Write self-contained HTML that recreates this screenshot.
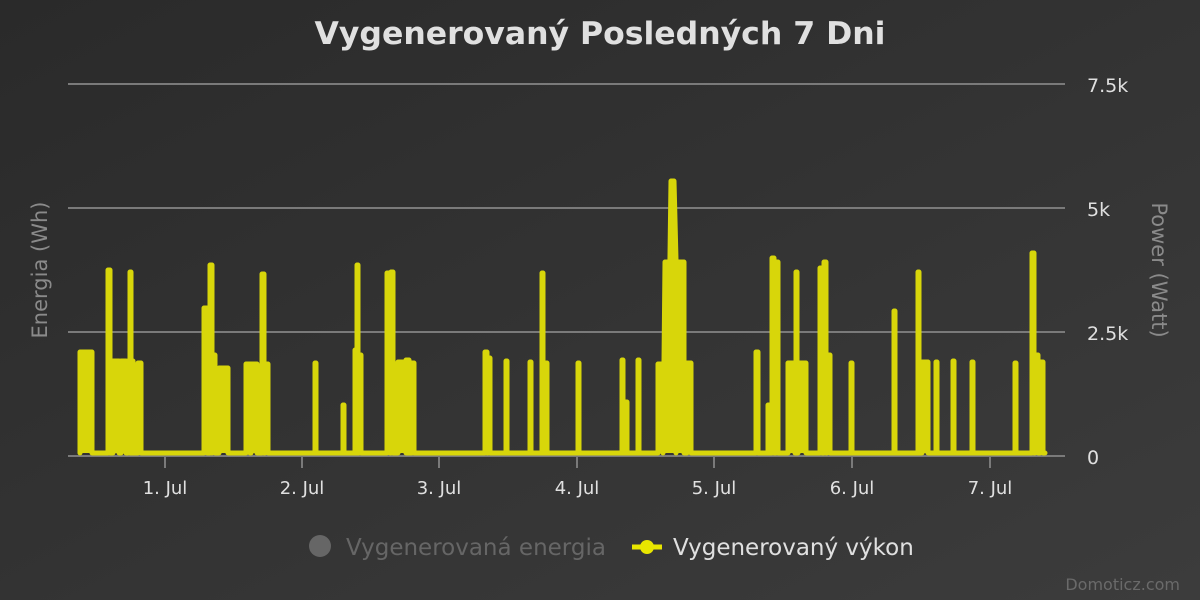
<!DOCTYPE html>
<html><head><meta charset="utf-8"><style>
html,body{margin:0;padding:0;width:1200px;height:600px;overflow:hidden;background:#2e2e2e}
svg{display:block;font-family:"DejaVu Sans","Liberation Sans",sans-serif}
</style></head><body>
<svg id="s" width="1200" height="600" viewBox="0 0 1200 600">
<defs><linearGradient id="bg" x1="0" y1="0" x2="1" y2="1"><stop offset="0" stop-color="#2a2a2a"/><stop offset="1" stop-color="#3c3c3c"/></linearGradient></defs>
<rect width="1200" height="600" fill="url(#bg)"/>
<text x="600" y="44" text-anchor="middle" font-size="31.5" font-weight="bold" fill="#e0e0e0">Vygenerovaný Posledných 7 Dni</text>
<g stroke="#7a7a7a" stroke-width="2">
<line x1="68" y1="84" x2="1065" y2="84"/><line x1="68" y1="208" x2="1065" y2="208"/><line x1="68" y1="332" x2="1065" y2="332"/><line x1="68" y1="456" x2="1065" y2="456"/>
<line x1="165" y1="456" x2="165" y2="468"/><line x1="302" y1="456" x2="302" y2="468"/><line x1="439" y1="456" x2="439" y2="468"/><line x1="577" y1="456" x2="577" y2="468"/><line x1="714" y1="456" x2="714" y2="468"/><line x1="852" y1="456" x2="852" y2="468"/><line x1="990" y1="456" x2="990" y2="468"/>
</g>
<g font-size="18" fill="#e0e0e0" text-anchor="middle">
<text x="165" y="494">1. Jul</text><text x="302" y="494">2. Jul</text><text x="439" y="494">3. Jul</text><text x="577" y="494">4. Jul</text><text x="714" y="494">5. Jul</text><text x="852" y="494">6. Jul</text><text x="990" y="494">7. Jul</text>
</g>
<g font-size="19" fill="#e0e0e0">
<text x="1087" y="92">7.5k</text><text x="1087" y="216">5k</text><text x="1087" y="340">2.5k</text><text x="1087" y="464">0</text>
</g>
<text transform="translate(47,270) rotate(-90)" text-anchor="middle" font-size="21" fill="#8a8a8a">Energia (Wh)</text>
<text transform="translate(1152,270) rotate(90)" text-anchor="middle" font-size="21" fill="#8a8a8a">Power (Watt)</text>
<path id="p" fill="#d8d60a" stroke="#d8d60a" stroke-width="5" stroke-linejoin="round" stroke-linecap="round"/>
<circle cx="320" cy="546" r="11" fill="#666"/>
<text x="346" y="555" font-size="23" fill="#666">Vygenerovaná energia</text>
<line x1="632" y1="547" x2="662" y2="547" stroke="#e8e600" stroke-width="5"/>
<circle cx="647" cy="547" r="7" fill="#e8e600"/>
<text x="673" y="555" font-size="23" fill="#e0e0e0">Vygenerovaný výkon</text>
<text x="1180" y="590" text-anchor="end" font-size="16" fill="#6a6a6a">Domoticz.com</text>
</svg>
<script>
var B=453;
var S=[[80,92,352],[108,110,270],[113,119,361],[121,126,361],[128,133,361],[130,131,272],[138,141,363],
[204,207,308],[210,212,265],[212,215,355],[219,228,368],[246,250,364],[251,257,364],[262,264,274],[265,268,364],
[315,316,363],[343,344,405],[355,356,350],[357,358,265],[359,361,355],[387,390,273],[391,393,272],[398,408,362],[406,409,360],[412,414,363],
[485,487,352],[488,490,358],[506,507,361],[530,531,362],[542,543,273],[546,547,363],[578,579,363],[622,623,360],[626,627,402],[638,639,360],
[658,663,364],[664,669,262],[671,676,181],[676,684,262],[687,691,363],
[756,758,352],[768,769,405],[772,774,258],[776,778,262],[788,795,363],[796,797,272],[798,806,363],[820,822,268],[824,826,262],[827,830,355],
[851,852,363],[894,895,311],[918,919,272],[922,928,362],[936,937,362],[953,954,361],[972,973,362],[1015,1016,363],[1032,1034,253],[1035,1038,355],[1040,1043,362]];
var d="M80 "+B;
S.forEach(function(s){var a=s[0],b=s[1],t=s[2];
 if(a===664){d+=" L"+a+" "+(t+100)+" L"+(a+1)+" "+t+" L"+b+" "+t+" L"+b+" 330";return;}
 if(a===671){d+=" L"+a+" "+t+" L"+(a+3)+" "+t+" L"+(b)+" 260 L"+b+" "+B;return;}
 d+=" L"+a+" "+B+" L"+a+" "+t+" L"+b+" "+t+" L"+b+" "+B;});
d+=" L1045 "+B;
document.getElementById("p").setAttribute("d",d);
</script>
</body></html>
